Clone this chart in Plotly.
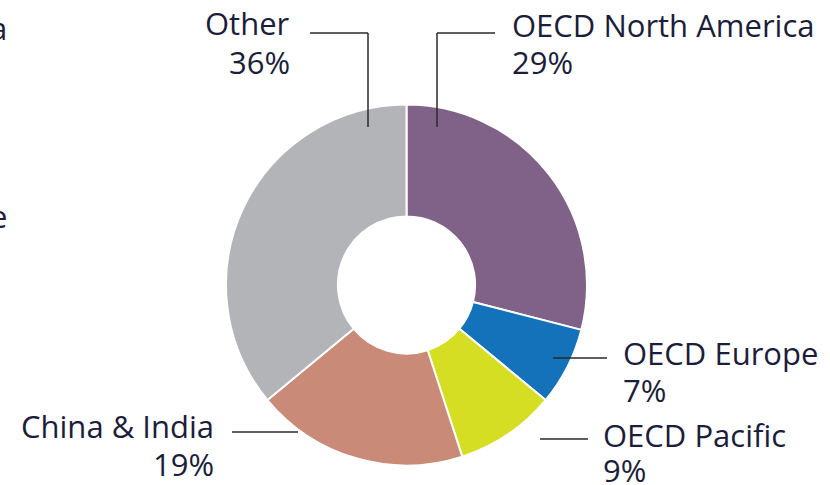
import plotly.graph_objects as go

regions = ["OECD North America", "OECD Europe", "OECD Pacific", "China & India", "Other"]
shares = [29, 7, 9, 19, 36]
colors = ["#806289", "#1372B9", "#D5DE23", "#C98A77", "#B3B4B8"]

W, H = 830, 485
FONT = "Open Sans"
TXT = "#1b1d3a"
FS = 31

fig = go.Figure(go.Pie(
    labels=regions, values=shares, sort=False, direction="clockwise", rotation=0,
    hole=0.38, textinfo="none", hoverinfo="label+percent",
    marker=dict(colors=colors, line=dict(color="white", width=2)),
    domain=dict(x=[226 / W, 587 / W], y=[19 / H, 381 / H]),
    showlegend=False,
))

def px(x, y):
    return x / W, 1 - y / H

# label layout: (name, x, y_name, y_pct, xanchor)
labels_layout = [
    ("Other", 292, 23, 62, "right"),
    ("OECD North America", 510, 25, 62, "left"),
    ("OECD Europe", 621, 353, 390, "left"),
    ("OECD Pacific", 601, 435, 470, "left"),
    ("China & India", 216, 426, 464, "right"),
]
name_to_share = dict(zip(regions, shares))
anns = []
for name, x, y1, y2, anchor in labels_layout:
    ax, ay = px(x, y1)
    anns.append(dict(x=ax, y=ay, xref="paper", yref="paper", text=name, showarrow=False,
                     xanchor=anchor, yanchor="middle", font=dict(family=FONT, size=FS, color=TXT)))
    bx, by = px(x, y2)
    anns.append(dict(x=bx, y=by, xref="paper", yref="paper", text=f"{name_to_share[name]}%",
                     showarrow=False, xanchor=anchor, yanchor="middle",
                     font=dict(family=FONT, size=FS, color=TXT)))

# cut-off letters from a neighbouring chart at left edge
for ch, y in [("a", 28), ("e", 216)]:
    ax, ay = px(9, y)
    anns.append(dict(x=ax, y=ay, xref="paper", yref="paper", text=ch, showarrow=False,
                     xanchor="right", yanchor="middle", font=dict(family=FONT, size=FS, color=TXT)))

leaders = [
    [(368, 127), (368, 33), (310, 33)],
    [(437, 127), (437, 33), (495, 33)],
    [(553, 358), (607, 358)],
    [(540, 439), (588, 439)],
    [(298, 432), (232, 432)],
]
shapes = []
for pts in leaders:
    for (x0, y0), (x1, y1) in zip(pts[:-1], pts[1:]):
        a0, b0 = px(x0, y0)
        a1, b1 = px(x1, y1)
        shapes.append(dict(type="line", xref="paper", yref="paper", x0=a0, y0=b0, x1=a1, y1=b1,
                           line=dict(color="#2a2a2a", width=1.5)))

fig.update_layout(
    width=W, height=H, margin=dict(l=0, r=0, t=0, b=0),
    paper_bgcolor="white", plot_bgcolor="white",
    annotations=anns, shapes=shapes,
)
fig.write_html("out.html", config={"displayModeBar": False},
               post_script="document.body.style.margin='0';")
